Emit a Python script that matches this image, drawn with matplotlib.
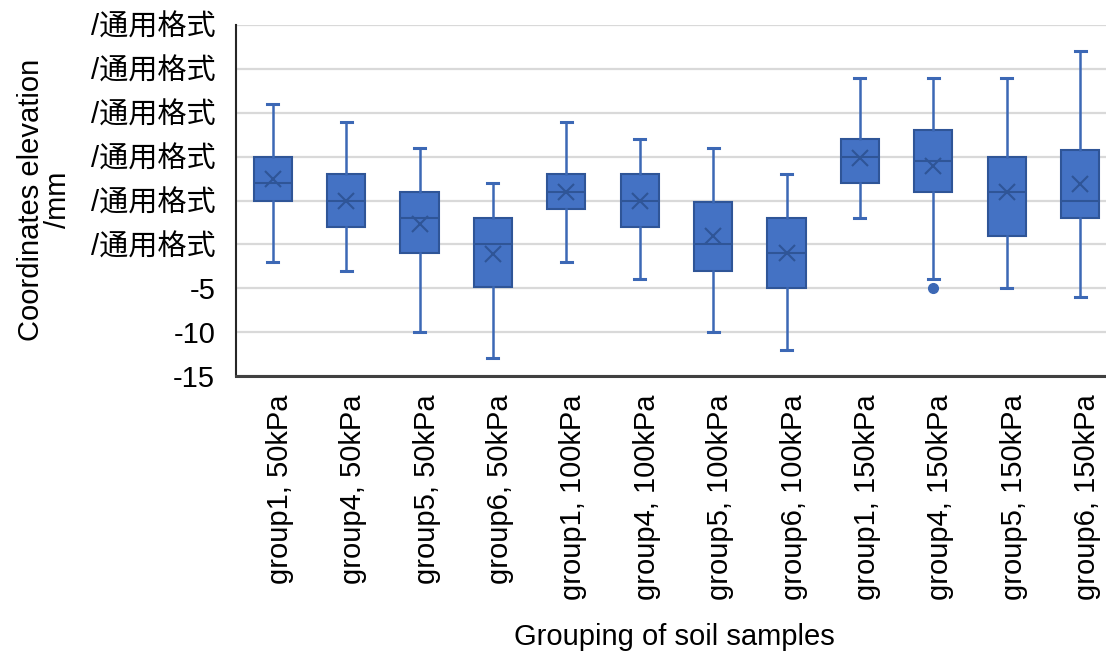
import matplotlib
matplotlib.use("Agg")
import matplotlib.pyplot as plt
from matplotlib.transforms import ScaledTranslation

plt.rcParams['font.family'] = ['Liberation Sans', 'Noto Sans CJK SC', 'DejaVu Sans']

categories = ["group1, 50kPa", "group4, 50kPa", "group5, 50kPa", "group6, 50kPa",
              "group1, 100kPa", "group4, 100kPa", "group5, 100kPa", "group6, 100kPa",
              "group1, 150kPa", "group4, 150kPa", "group5, 150kPa", "group6, 150kPa"]
whisker_low = [-2, -3, -10, -13, -2, -4, -10, -12, 3, -4, -5, -6]
q1 = [5, 2, -1, -4.8, 4, 2, -3, -5, 7, 6, 1, 3]
median = [7, 5, 3, 0, 6, 5, 0, -1, 10, 9.5, 6, 5]
q3 = [10, 8, 6, 3, 8, 8, 4.8, 3, 12, 13, 10, 10.8]
whisker_high = [16, 14, 11, 7, 14, 12, 11, 8, 19, 19, 19, 22]
means = [7.4, 5, 2.3, -1.1, 6, 5, 0.9, -1, 9.8, 8.9, 6, 6.9]
outliers = [[], [], [], [], [], [], [], [], [], [-5], [], []]

y_ticks = [-15, -10, -5, 0, 5, 10, 15, 20, 25]
y_tick_labels = ["-15", "-10", "-5", "/通用格式", "/通用格式", "/通用格式",
                 "/通用格式", "/通用格式", "/通用格式"]

fill = "#4472C4"
edge = "#2F5597"
line = "#3C68B5"
fs = 21

fig = plt.figure(figsize=(11.06, 6.52), dpi=100)
ax = fig.add_axes([0.2134, 0.4233, 0.7964, 0.5383])

stats = []
for i, name in enumerate(categories):
    stats.append(dict(label=name, whislo=whisker_low[i], q1=q1[i], med=median[i],
                      q3=q3[i], whishi=whisker_high[i], mean=means[i],
                      fliers=outliers[i]))

ax.bxp(stats, positions=range(1, len(categories) + 1), widths=0.52,
       patch_artist=True, showmeans=True, showcaps=True,
       boxprops=dict(facecolor=fill, edgecolor=edge, linewidth=1.5),
       medianprops=dict(color=edge, linewidth=1.5),
       whiskerprops=dict(color=line, linewidth=1.8),
       capprops=dict(color=line, linewidth=2.2),
       capwidths=0.15,
       meanprops=dict(marker='x', markersize=11, markeredgecolor=edge,
                      markeredgewidth=1.5, markerfacecolor=edge),
       flierprops=dict(marker='o', markersize=7, markerfacecolor=line,
                       markeredgecolor=line))

ax.set_xlim(0.5, len(categories) + 0.5)
ax.set_ylim(-15, 25)
ax.set_yticks(y_ticks)
ax.set_yticklabels(y_tick_labels, fontsize=fs)
ax.set_xticks(range(1, len(categories) + 1))
ax.set_xticklabels(categories, rotation=90, fontsize=fs, va='top', ha='center')
ax.tick_params(axis='y', length=0, pad=15)
ax.tick_params(axis='x', length=0, pad=13)

# nudge the rotated category labels slightly to the right
shift = ScaledTranslation(7 / 100, 0, fig.dpi_scale_trans)
for lbl in ax.get_xticklabels():
    lbl.set_transform(lbl.get_transform() + shift)

ax.grid(axis='y', color='#D9D9D9', linewidth=1.6)
ax.set_axisbelow(True)
for side in ('top', 'right'):
    ax.spines[side].set_visible(False)
ax.spines['left'].set_color('#262626')
ax.spines['left'].set_linewidth(1.5)
ax.spines['bottom'].set_color('#404040')
ax.spines['bottom'].set_linewidth(2.2)

fig.text(0.040, 0.693, "Coordinates elevation\n/mm", fontsize=fs, rotation=90,
         ha='center', va='center', multialignment='center', linespacing=0.95)
fig.text(0.610, 0.023, "Grouping of soil samples", fontsize=fs, ha='center', va='center')

fig.savefig("out.png", dpi=100)
